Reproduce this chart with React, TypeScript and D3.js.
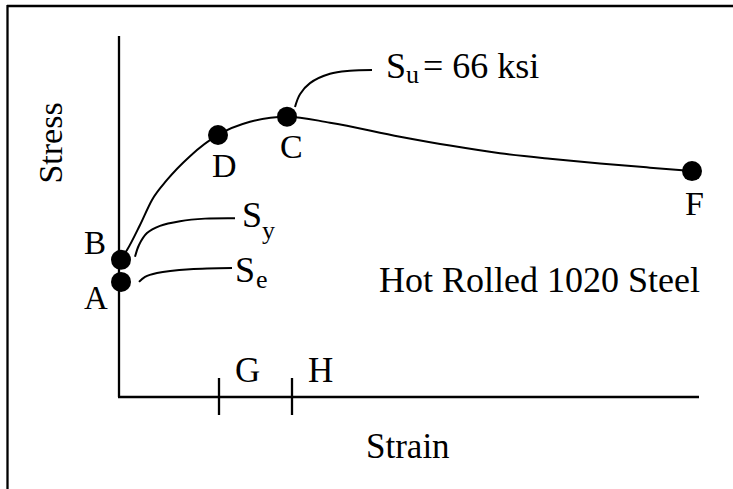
import React from "react";
import * as d3 from "d3";

// strain in arbitrary units, stress in ksi
const curveStrain = [0.2, 0.8, 2.1, 3.3, 4.8, 7.1, 9.9, 13.1, 16.8, 21.1, 28.1, 33.1, 38.1, 43.1, 48.1, 53.1, 57.3];
const curveStress = [32.5, 34.6, 40.5, 46.4, 51.1, 56.7, 61.7, 64.8, 66, 64.6, 61.3, 59.2, 57.4, 56.1, 55.0, 54.0, 53.2];

const pointNames = ["A", "B", "D", "C", "F"];
const pointStrain = [0.2, 0.2, 9.9, 16.8, 57.3];
const pointStress = [27.1, 32.3, 61.7, 66, 53.2];

const tickNames = ["G", "H"];
const tickStrain = [10.0, 17.3];

const syLeaderStrain = [1.6, 2.0, 2.8, 4.1, 6.1, 8.6, 11.6];
const syLeaderStress = [33.0, 35.8, 38.6, 40.3, 41.4, 42.0, 42.1];
const seLeaderStrain = [2.0, 2.6, 3.8, 7.1, 11.3];
const seLeaderStress = [27.1, 28.3, 29.2, 30.1, 30.4];
const suLeaderStrain = [17.6, 18.1, 19.1, 21.1, 23.1, 25.3];
const suLeaderStress = [68.3, 71.3, 73.9, 76.1, 76.8, 77.0];

const ultimateKsi = 66;
const title = "Hot Rolled 1020 Steel";

const W = 733;
const H = 489;
const FONT = "'Liberation Serif', 'Times New Roman', serif";

const zip = (xs: number[], ys: number[]) => xs.map((x, i) => [x, ys[i]] as [number, number]);

// label offsets from each point (px): dx, dy, font size
const labelOffset: Record<string, [number, number, number]> = {
  A: [-37, 27, 33],
  B: [-37, -6, 33],
  D: [-6, 42, 34],
  C: [-7, 41, 34],
  F: [-7, 44, 34],
};

export default function App() {
  const x = d3.scaleLinear().domain([0, 58]).range([119, 699]);
  const y = d3.scaleLinear().domain([0, 85]).range([397, 36]);

  const smooth = d3
    .line<[number, number]>()
    .x((d) => x(d[0]))
    .y((d) => y(d[1]))
    .curve(d3.curveMonotoneX);

  const leader = d3
    .line<[number, number]>()
    .x((d) => x(d[0]))
    .y((d) => y(d[1]))
    .curve(d3.curveCatmullRom.alpha(0.5));

  const x0 = x(0);
  const y0 = y(0);

  const syEnd = x(syLeaderStrain[syLeaderStrain.length - 1]);
  const seEnd = x(seLeaderStrain[seLeaderStrain.length - 1]);
  const suEnd = x(suLeaderStrain[suLeaderStrain.length - 1]);

  return (
    <svg
      width={W}
      height={H}
      style={{ position: "absolute", left: 0, top: 0, background: "#fff" }}
      fontFamily={FONT}
    >
      {/* frame */}
      <line x1={7} y1={6} x2={W} y2={6} stroke="#000" strokeWidth={2.6} />
      <line x1={7.5} y1={5} x2={7.5} y2={H} stroke="#000" strokeWidth={2.3} />

      {/* axes */}
      <line x1={x0} y1={y(85)} x2={x0} y2={y0} stroke="#000" strokeWidth={2.3} />
      <line x1={x0 - 1} y1={y0} x2={x(58)} y2={y0} stroke="#000" strokeWidth={2.6} />

      {tickStrain.map((t, i) => (
        <g key={tickNames[i]}>
          <line x1={x(t)} x2={x(t)} y1={y0 - 19} y2={y0 + 18} stroke="#000" strokeWidth={2.3} />
          <text x={x(t) + 16} y={y0 - 15} fontSize={35}>
            {tickNames[i]}
          </text>
        </g>
      ))}

      {/* stress-strain curve */}
      <path d={smooth(zip(curveStrain, curveStress)) || ""} fill="none" stroke="#000" strokeWidth={2} />

      {/* leaders */}
      <path d={leader(zip(syLeaderStrain, syLeaderStress)) || ""} fill="none" stroke="#000" strokeWidth={2} />
      <path d={leader(zip(seLeaderStrain, seLeaderStress)) || ""} fill="none" stroke="#000" strokeWidth={2} />
      <path d={leader(zip(suLeaderStrain, suLeaderStress)) || ""} fill="none" stroke="#000" strokeWidth={2} />

      {pointNames.map((n, i) => {
        const px = x(pointStrain[i]);
        const py = y(pointStress[i]);
        const [dx, dy, fs] = labelOffset[n];
        return (
          <g key={n}>
            <circle cx={px} cy={py} r={10} fill="#000" />
            <text x={px + dx} y={py + dy} fontSize={fs}>
              {n}
            </text>
          </g>
        );
      })}

      {/* S_y */}
      <text x={syEnd + 7} y={y(42.1) + 9} fontSize={36}>
        S
      </text>
      <text x={syEnd + 27} y={y(42.1) + 21} fontSize={26}>
        y
      </text>

      {/* S_e */}
      <text x={seEnd + 3} y={y(30.4) + 14} fontSize={36}>
        S
      </text>
      <text x={seEnd + 24} y={y(30.4) + 20} fontSize={26}>
        e
      </text>

      {/* S_u */}
      <text x={suEnd + 14} y={y(77) + 8} fontSize={36}>
        S
      </text>
      <text x={suEnd + 34} y={y(77) + 13} fontSize={26}>
        u
      </text>
      <text x={suEnd + 51} y={y(77) + 8} fontSize={36}>
        {`= ${ultimateKsi} ksi`}
      </text>

      <text x={379} y={292} fontSize={36}>
        {title}
      </text>

      <text x={366} y={458} fontSize={35}>
        Strain
      </text>
      <text transform="translate(62,143) rotate(-90)" textAnchor="middle" fontSize={34}>
        Stress
      </text>
    </svg>
  );
}
